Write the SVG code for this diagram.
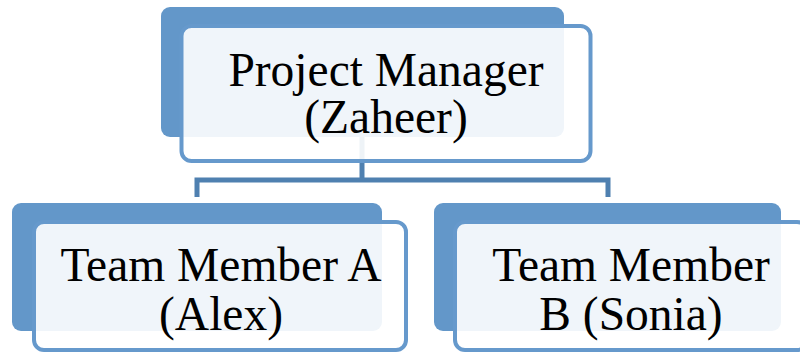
<svg xmlns="http://www.w3.org/2000/svg" width="800" height="356" viewBox="0 0 800 356">
  <style>
    .back { fill: #6397c9; }
    .front { fill: #ffffff; fill-opacity: 0.9; stroke: #6699cc; stroke-width: 4; }
    .link { fill: none; stroke: #4f80b0; stroke-width: 5; }
    .label { font-family: "Liberation Serif", "Times New Roman", serif; font-size: 47.5px; fill: #000000; text-anchor: middle; }
  </style>
  <rect width="800" height="356" fill="#ffffff"/>

  <!-- connectors: manager down to the bus, bus down to each member -->
  <g id="connectors">
    <path class="link" d="M362 137 V180"/>
    <path class="link" d="M197 197 V180 H608 V197"/>
  </g>

  <g id="node-manager">
    <rect class="back" x="161" y="7" width="403" height="130" rx="9"/>
    <rect class="front" x="181.5" y="26" width="409" height="135" rx="10"/>
    <text class="label" x="386" y="86">Project Manager</text>
    <text class="label" x="386" y="133">(Zaheer)</text>
  </g>

  <g id="node-member-a">
    <rect class="back" x="12" y="203" width="370" height="128" rx="9"/>
    <rect class="front" x="34" y="222" width="372" height="128" rx="10"/>
    <text class="label" x="221" y="281">Team Member A</text>
    <text class="label" x="221" y="330">(Alex)</text>
  </g>

  <g id="node-member-b">
    <rect class="back" x="434" y="203" width="347" height="128" rx="9"/>
    <rect class="front" x="455" y="222" width="352" height="128" rx="10"/>
    <text class="label" x="631" y="281">Team Member</text>
    <text class="label" x="631" y="330">B (Sonia)</text>
  </g>
</svg>
